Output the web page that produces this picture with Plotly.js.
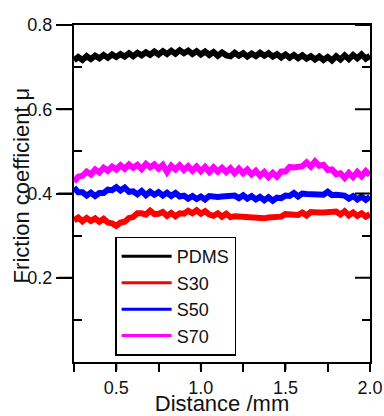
<!DOCTYPE html>
<html>
<head>
<meta charset="utf-8">
<script src="https://cdn.plot.ly/plotly-3.0.1.min.js"></script>
<style>html,body{margin:0;padding:0;background:#fff;}#chart{width:384px;height:416px;}</style>
</head>
<body>
<div id="chart"></div>
<script>
var distance = [0.25,0.275,0.3,0.325,0.35,0.375,0.4,0.425,0.45,0.475,
0.5,0.525,0.55,0.575,0.6,0.625,0.65,0.675,0.7,0.725,
0.75,0.775,0.8,0.825,0.85,0.875,0.9,0.925,0.95,0.975,
1.0,1.025,1.05,1.075,1.1,1.125,1.15,1.175,1.2,1.225,
1.25,1.275,1.3,1.325,1.35,1.375,1.4,1.425,1.45,1.475,
1.5,1.525,1.55,1.575,1.6,1.625,1.65,1.675,1.7,1.725,
1.75,1.775,1.8,1.825,1.85,1.875,1.9,1.925,1.95,1.975,2.0];

var pdms = [0.716,0.724,0.717,0.726,0.719,0.727,0.721,0.729,0.722,0.730,
0.724,0.731,0.725,0.733,0.726,0.734,0.728,0.735,0.729,0.737,
0.730,0.738,0.731,0.739,0.732,0.740,0.733,0.739,0.731,0.738,
0.730,0.737,0.729,0.736,0.727,0.735,0.728,0.726,0.734,0.727,
0.733,0.725,0.732,0.726,0.734,0.727,0.733,0.725,0.731,0.723,
0.730,0.722,0.729,0.721,0.728,0.720,0.726,0.718,0.725,0.717,
0.724,0.716,0.726,0.718,0.728,0.719,0.729,0.721,0.730,0.720,0.727];

var s30 = [0.336,0.343,0.334,0.342,0.335,0.341,0.333,0.340,0.331,0.329,
0.323,0.331,0.333,0.342,0.344,0.353,0.353,0.350,0.359,0.351,
0.352,0.356,0.347,0.354,0.346,0.353,0.352,0.359,0.353,0.360,
0.352,0.358,0.350,0.347,0.353,0.345,0.352,0.344,0.346,0.345,
0.345,0.343,0.343,0.342,0.342,0.341,0.343,0.343,0.345,0.345,
0.351,0.350,0.350,0.349,0.355,0.348,0.356,0.354,0.355,0.355,
0.356,0.356,0.357,0.350,0.358,0.348,0.355,0.347,0.353,0.345,0.351];

var s50 = [0.414,0.403,0.403,0.395,0.402,0.394,0.401,0.401,0.409,0.408,
0.415,0.407,0.414,0.404,0.405,0.398,0.406,0.396,0.404,0.397,
0.403,0.395,0.402,0.394,0.401,0.393,0.395,0.388,0.394,0.387,
0.393,0.386,0.394,0.392,0.392,0.393,0.394,0.394,0.395,0.389,
0.396,0.388,0.394,0.386,0.392,0.384,0.391,0.383,0.390,0.389,
0.395,0.394,0.401,0.393,0.400,0.399,0.399,0.398,0.398,0.397,
0.404,0.396,0.397,0.395,0.395,0.388,0.394,0.386,0.393,0.385,0.392];

var s70 = [0.428,0.440,0.442,0.452,0.445,0.457,0.450,0.461,0.454,0.464,
0.457,0.467,0.459,0.469,0.461,0.468,0.458,0.470,0.462,0.469,
0.459,0.468,0.451,0.466,0.457,0.467,0.456,0.465,0.454,0.464,
0.453,0.463,0.451,0.462,0.452,0.461,0.451,0.460,0.448,0.459,
0.448,0.457,0.445,0.454,0.442,0.451,0.439,0.449,0.440,0.452,
0.452,0.463,0.462,0.465,0.465,0.474,0.464,0.476,0.466,0.468,
0.456,0.457,0.446,0.448,0.437,0.449,0.439,0.451,0.441,0.453,0.444];

var seriesNames = ['PDMS','S30','S50','S70'];
var seriesValues = [pdms, s30, s50, s70];
var seriesColors = ['#000000','#ff0000','#0000ff','#ff00ff'];

var xMajorTicks = [0.5, 1.0, 1.5, 2.0];
var yMajorTicks = [0.2, 0.4, 0.6, 0.8];
var yMinorTicks = [0.1, 0.3, 0.5, 0.7];

var traces = seriesNames.map(function(n, i){
  return {x: distance, y: seriesValues[i], type: 'scatter', mode: 'lines', name: n,
    showlegend: false, line: {color: seriesColors[i], width: 6}, xaxis: 'x', yaxis: 'y'};
});
seriesNames.forEach(function(n, i){
  traces.push({x: [null], y: [null], type: 'scatter', mode: 'lines', name: n,
    line: {color: seriesColors[i], width: 3}, xaxis: 'x', yaxis: 'y'});
});
['y2','y3'].forEach(function(ax){
  traces.push({x: [distance[0]], y: [pdms[0]], xaxis: 'x', yaxis: ax, mode: 'markers',
    marker: {opacity: 0}, showlegend: false, hoverinfo: 'skip'});
});

// major tick marks (drawn as axis-referenced decorations)
var tickLine = {color: '#000', width: 2};
var shapes = [];
yMajorTicks.forEach(function(v){
  shapes.push({type: 'line', layer: 'above', xref: 'paper', yref: 'y', xsizemode: 'pixel', xanchor: 0,
    x0: -16, x1: 0, y0: v, y1: v, line: tickLine});
  shapes.push({type: 'line', layer: 'above', xref: 'paper', yref: 'y', xsizemode: 'pixel', xanchor: 1,
    x0: -15, x1: 0, y0: v, y1: v, line: tickLine});
});
xMajorTicks.forEach(function(v){
  shapes.push({type: 'line', layer: 'above', xref: 'x', yref: 'paper', ysizemode: 'pixel', yanchor: 0,
    y0: -8, y1: 0, x0: v, x1: v, line: tickLine});
});

var fontFam = 'Liberation Sans, Arial, sans-serif';
var layout = {
  width: 384, height: 416,
  margin: {l: 74, r: 14, t: 25, b: 54},
  paper_bgcolor: '#fff', plot_bgcolor: '#fff',
  font: {family: fontFam, color: '#111', size: 18},
  showlegend: true,
  legend: {x: 0.139, y: 0.372, xanchor: 'left', yanchor: 'top',
    bordercolor: '#000', borderwidth: 1.5, bgcolor: '#fff', itemwidth: 50,
    tracegroupgap: 0,
    font: {family: fontFam, size: 18, color: '#111'}},
  xaxis: {range: [0.25, 2.0], tickmode: 'array', tickvals: xMajorTicks, tickformat: '.1f',
    ticks: 'outside', ticklen: 8, tickwidth: 2, tickcolor: '#000',
    minor: {dtick: 0.25, tick0: 0, ticks: 'outside', ticklen: 8, tickwidth: 2, tickcolor: '#000'},
    showline: true, linecolor: '#000', linewidth: 2, mirror: true,
    showgrid: false, zeroline: false,
    tickfont: {size: 18},
    title: {text: 'Distance /mm', font: {size: 22}, standoff: 6}},
  yaxis: {range: [0, 0.8], tickmode: 'array', tickvals: yMajorTicks, tickformat: '.1f',
    ticks: 'outside', ticklen: 16, tickwidth: 2, tickcolor: '#000',
    showline: true, linecolor: '#000', linewidth: 2, mirror: true,
    showgrid: false, zeroline: false, showticklabels: true,
    tickfont: {size: 18}},
  yaxis3: {range: [0, 0.8], overlaying: 'y', side: 'left', anchor: 'x',
    tickmode: 'array', tickvals: yMinorTicks, ticks: 'inside', ticklen: 8, tickwidth: 2, tickcolor: '#000',
    showticklabels: false, showline: false, showgrid: false, zeroline: false},
  yaxis2: {range: [0, 0.8], overlaying: 'y', side: 'right', anchor: 'x',
    tickmode: 'array', tickvals: yMinorTicks, ticks: 'inside', ticklen: 8, tickwidth: 2, tickcolor: '#000',
    showticklabels: false, showline: false, showgrid: false, zeroline: false},
  shapes: shapes,
  annotations: [{text: 'Friction coefficient μ', textangle: -90, showarrow: false,
    xref: 'paper', yref: 'paper', x: -0.178, y: 0.525, xanchor: 'center', yanchor: 'middle',
    font: {size: 22, family: fontFam, color: '#111'}}]
};

Plotly.newPlot('chart', traces, layout, {staticPlot: true, displayModeBar: false});
</script>
</body>
</html>
